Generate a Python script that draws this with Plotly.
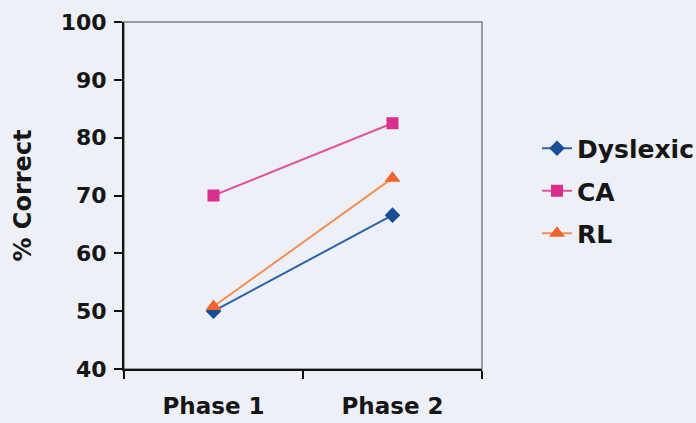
import plotly.graph_objects as go

# Percentage correct by phase for each reader group
phases = ["Phase 1", "Phase 2"]
dyslexic = [50.0, 66.6]
ca = [70.0, 82.5]
rl = [50.8, 73.0]

y_ticks = [40, 50, 60, 70, 80, 90, 100]

FONT = "DejaVu Sans"
INK = "#161616"
BG = "#eef0f7"

series = [
    ("Dyslexic", dyslexic, "#2b62a8", "#174e94", "diamond", 12),
    ("CA", ca, "#e0559c", "#d82f8c", "square", 12),
    ("RL", rl, "#f29055", "#f0622e", "triangle-up", 14),
]

fig = go.Figure()
for i, (name, vals, lcol, mcol, sym, msize) in enumerate(series):
    fig.add_trace(go.Scatter(
        x=phases, y=vals, name=name, mode="lines+markers",
        legendgroup=f"g{i}",
        line=dict(color=lcol, width=2),
        marker=dict(symbol=sym, size=msize, color=mcol,
                    line=dict(width=0)),
    ))

# gray frame around the plotting area (top and right edges show)
fig.add_shape(type="rect", xref="x domain", yref="y domain",
              x0=0, x1=1, y0=0, y1=1, layer="below",
              line=dict(color="#7f7f84", width=1.5))

fig.update_layout(
    width=696, height=423,
    margin=dict(l=124, r=214, t=22, b=54, autoexpand=False),
    paper_bgcolor=BG, plot_bgcolor=BG,
    font=dict(family=FONT, color=INK, size=22),
    showlegend=True,
    legend=dict(
        xref="container", yref="container",
        x=537 / 696, xanchor="left",
        y=1 - 191 / 423, yanchor="middle",
        font=dict(family=FONT, size=25, color=INK, weight="bold"),
        bgcolor="rgba(0,0,0,0)", borderwidth=0,
        tracegroupgap=7, traceorder="grouped",
        itemwidth=30,
    ),
    xaxis=dict(
        type="category", categoryorder="array", categoryarray=phases,
        range=[-0.5, 1.5], tickson="boundaries",
        ticks="outside", ticklen=8, tickwidth=1.5, tickcolor="#111",
        showline=True, linecolor="#111", linewidth=2,
        showgrid=False, zeroline=False, automargin=False,
        tickfont=dict(family=FONT, size=23, color=INK, weight="bold"),
        ticklabelstandoff=15,
    ),
    yaxis=dict(
        range=[40, 100], tickvals=y_ticks,
        ticks="outside", ticklen=8, tickwidth=1.5, tickcolor="#111",
        showline=True, linecolor="#111", linewidth=2,
        showgrid=False, zeroline=False, automargin=False,
        tickfont=dict(family=FONT, size=22, color=INK, weight="bold"),
        ticklabelstandoff=3,
        title=dict(text="% Correct", standoff=22,
                   font=dict(family=FONT, size=24, color=INK, weight="bold")),
    ),
)

fig.write_html("out.html")
